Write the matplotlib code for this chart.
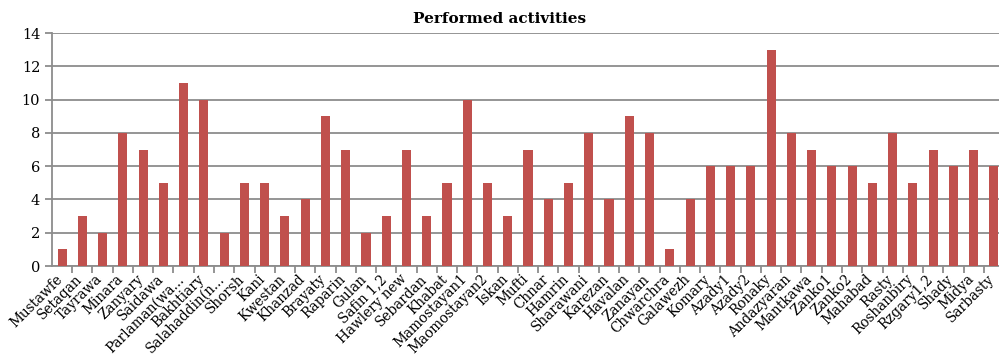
import matplotlib.pyplot as plt
import matplotlib.transforms as mtransforms
import numpy as np

sites = ["Mustawfe", "Setaqan", "Tayrawa", "Minara", "Zanyary", "Saidawa",
         "Parlaman(wa...", "Bakhtiary", "Salahaddin(n...", "Shorsh", "Kani",
         "Kwestan", "Khanzad", "Brayaty", "Raparin", "Gulan", "Safin 1,2",
         "Hawlery new", "Sebardan", "Khabat", "Mamostayan1", "Maomostayan2",
         "Iskan", "Mufti", "Chnar", "Hamrin", "Sharawani", "Karezan", "Havalan",
         "Zanayan", "Chwarchra", "Galawezh", "Komary", "Azady1", "Azady2",
         "Ronaky", "Andazyaran", "Mantkawa", "Zanko1", "Zanko2", "Mahabad",
         "Rasty", "Roshanbiry", "Rzgary1,2", "Shady", "Midya", "Sarbasty"]
activities = [1, 3, 2, 8, 7, 5, 11, 10, 2, 5, 5, 3, 4, 9, 7, 2, 3, 7, 3, 5,
              10, 5, 3, 7, 4, 5, 8, 4, 9, 8, 1, 4, 6, 6, 6, 13, 8, 7, 6, 6, 5,
              8, 5, 7, 6, 7, 6]
yticks = [0, 2, 4, 6, 8, 10, 12, 14]

plt.rcParams['font.family'] = 'DejaVu Serif'
grey = '#8c8c8c'

fig = plt.figure(figsize=(9.99, 3.6), dpi=100)
ax = fig.add_axes([0.052, 0.261, 0.948, 0.647])

x = np.arange(len(sites))
ax.bar(x, activities, width=0.45, color='#c0504d', zorder=3)

ax.set_ylim(0, 14)
ax.set_xlim(-0.5, 46.25)
ax.set_yticks(yticks)
ax.grid(axis='y', color=grey, linewidth=1.3, zorder=0)

# slanted site names, written under each bar (kept inside the right edge)
ax.set_xticks(x)
ax.set_xticklabels([])
offset = mtransforms.ScaledTranslation(-0.02, -0.11, fig.dpi_scale_trans)
for xi, name in zip(x, sites):
    ax.text(xi, 0, name, transform=ax.get_xaxis_transform() + offset,
            rotation=45, ha='right', va='center', rotation_mode='anchor',
            fontsize=9.8)

ax.set_xticks(x[:-1] + 0.5, minor=True)
ax.tick_params(axis='x', which='major', length=0)
ax.tick_params(axis='x', which='minor', length=5, color=grey, width=1.3)
ax.tick_params(axis='y', length=5, color=grey, width=1.3, labelsize=10.5)

for side in ['top', 'right']:
    ax.spines[side].set_visible(False)
for side in ['left', 'bottom']:
    ax.spines[side].set_color(grey)
    ax.spines[side].set_linewidth(1.3)

fig.text(0.5, 0.948, "Performed activities", ha='center', va='center',
         fontsize=11, fontweight='bold')

fig.savefig('out.png', dpi=100)
